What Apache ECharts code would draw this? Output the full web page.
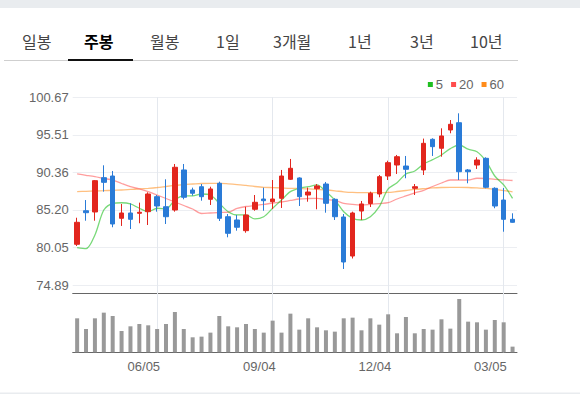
<!DOCTYPE html>
<html>
<head>
<meta charset="utf-8">
<script src="https://cdn.jsdelivr.net/npm/echarts@6/dist/echarts.min.js"></script>
<style>
html,body{margin:0;padding:0;background:#ffffff;}
#c{width:580px;height:394px;}
</style>
</head>
<body>
<div id="c"></div>
<script>
// ---- data ----
const dates = ['04/03','04/10','04/17','04/24','05/01','05/08','05/15','05/22','05/29','06/05',
  '06/12','06/19','06/26','07/03','07/10','07/17','07/24','07/31','08/07','08/14',
  '08/21','08/28','09/04','09/11','09/18','09/25','10/02','10/09','10/16','10/23',
  '10/30','11/06','11/13','11/20','11/27','12/04','12/11','12/18','12/25','01/01',
  '01/08','01/15','01/22','01/29','02/05','02/12','02/19','02/26','03/05','03/12'];

// [open, close, low, high]
const candles = [
  [80.48,83.50,80.25,84.13],[85.09,84.82,83.72,86.56],[84.92,89.22,83.72,89.31],[89.63,88.99,87.71,91.33],
  [89.86,83.27,82.82,90.55],[84.05,84.78,83.00,86.02],[84.78,83.91,82.58,86.11],[84.74,84.88,83.37,86.20],
  [84.96,87.39,83.13,87.62],[87.02,85.74,84.96,87.25],[85.64,84.27,83.27,89.41],[85.19,91.06,84.96,91.51],
  [90.69,86.94,86.66,91.51],[87.94,87.49,87.16,88.26],[88.39,87.02,86.47,88.76],[86.66,88.08,85.88,88.39],
  [88.86,84.05,83.68,89.08],[84.27,81.99,81.44,84.64],[83.82,82.82,82.35,84.50],[82.35,84.50,82.07,85.64],
  [85.29,86.25,85.09,87.25],[86.70,86.47,85.09,88.26],[86.33,86.70,85.33,89.31],[86.80,89.86,85.47,90.69],
  [89.41,90.92,89.31,92.20],[89.59,87.02,85.74,89.68],[87.25,87.66,86.33,88.28],[88.12,88.49,85.29,88.76],
  [88.76,86.11,84.82,89.04],[86.66,84.27,83.82,86.80],[84.23,78.05,77.09,84.64],[78.87,84.78,78.53,84.96],
  [85.05,86.02,83.82,86.43],[86.08,87.49,85.60,87.71],[87.39,89.77,86.94,90.00],[89.86,91.69,89.31,91.96],
  [91.37,92.51,90.14,92.75],[91.23,90.78,89.55,92.61],[88.17,88.39,87.25,88.76],[90.69,94.35,90.00,95.00],
  [94.90,93.89,92.61,95.04],[93.67,95.36,92.51,96.41],[96.18,96.96,95.73,97.55],[97.18,90.45,89.31,98.47],
  [90.69,90.45,88.86,90.82],[91.37,92.06,90.83,92.43],[92.29,88.31,88.17,92.43],[88.17,85.74,85.43,88.31],
  [86.56,83.91,82.21,88.21],[83.91,83.50,83.45,84.74]
];

const ma5 = [80.01,79.88,81.76,85.19,86.11,86.19,86.02,85.43,84.96,85.43,
  85.33,86.57,87.12,87.12,87.39,87.25,86.11,84.96,84.51,84.51,
  83.96,84.27,85.43,86.57,87.71,88.17,88.39,88.63,87.71,86.57,
  84.96,84.05,83.82,84.27,85.65,88.08,88.94,90.14,90.55,91.51,
  92.10,92.75,93.62,94.12,93.55,93.20,91.92,89.86,88.63,86.80];

const ma20 = [90.14,89.96,89.77,89.52,89.31,88.83,88.39,88.08,87.71,87.25,
  86.77,86.29,85.81,85.33,84.71,84.78,84.85,84.88,85.40,85.67,
  85.81,85.95,86.15,86.29,86.50,86.70,86.77,86.80,86.63,86.50,
  86.11,85.95,85.88,85.97,86.08,86.19,86.70,87.12,87.53,87.90,
  88.42,88.90,89.31,89.31,89.31,89.55,89.52,89.41,89.34,89.24];

const ma60 = [87.71,87.76,87.80,87.84,87.90,87.94,88.01,88.08,88.17,88.28,
  88.42,88.56,88.69,88.76,88.83,88.86,88.86,88.79,88.69,88.56,
  88.42,88.31,88.27,88.22,88.17,88.15,88.08,88.01,87.94,87.83,
  87.69,87.60,87.57,87.57,87.57,87.60,87.73,87.87,88.01,88.12,
  88.22,88.28,88.31,88.31,88.28,88.22,88.15,88.01,87.86,87.68];

const volume = [102,70,102,119,109,64,78,85,81,70,
  85,121,70,45,47,59,109,78,75,85,
  70,59,95,59,116,68,102,75,66,62,
  102,104,66,102,83,114,57,106,57,70,
  68,99,71,160,92,90,68,97,90,17];

const yTicks = [74.89, 80.05, 85.20, 90.36, 95.51, 100.67];
const xTickLabels = ['06/05','09/04','12/04','03/05'];
const tabs = ['일봉','주봉','월봉','1일','3개월','1년','3년','10년'];
const selectedTab = '주봉';
const legendNames = ['5','20','60'];

// ---- layout / style ----
const tabX = [22, 84, 150, 216, 273, 348, 410, 470];
const UP = '#e2261e', DOWN = '#2a7bd7';
const C5 = '#1fbf1f', C20 = '#ff4d4d', C60 = '#ff8c1a';
const FONT = "'Liberation Sans', Arial, sans-serif";
const tickIdx = xTickLabels.map(d => dates.indexOf(d));
const vline = {
  z: 1, silent: true, symbol: ['none','none'], animation: false,
  label: {show: false}, emphasis: {disabled: true},
  lineStyle: {color: '#e4e8ee', width: 1, type: 'solid'},
  data: xTickLabels.map(d => ({xAxis: d}))
};

const graphic = [
  {type:'rect', shape:{x:0,y:0,width:580,height:8}, style:{fill:'#e9ecef'}, silent:true},
  {type:'rect', shape:{x:0,y:392.5,width:580,height:2}, style:{fill:'#e9ecef'}, silent:true},
  {type:'rect', shape:{x:4,y:60,width:514,height:1}, style:{fill:'#cfcfcf'}, silent:true},
  {type:'rect', shape:{x:68,y:59,width:65,height:2}, style:{fill:'#111111'}, silent:true}
];
tabs.forEach((t, i) => {
  const sel = t === selectedTab;
  graphic.push({type:'text', x: tabX[i], y: 41, silent: true,
    style:{text: t, fontSize: 16, fontWeight: sel ? 'bold' : 'normal',
      fontFamily: "'Noto Sans CJK KR', sans-serif", fill: sel ? '#000000' : '#444444',
      verticalAlign: 'middle', align: 'left'}});
});

const chart = echarts.init(document.getElementById('c'), null, {renderer: 'svg'});
const yMin = yTicks[0], yMax = yTicks[yTicks.length - 1];
chart.setOption({
  animation: false,
  backgroundColor: '#ffffff',
  graphic: graphic,
  legend: {
    right: 71, top: 73, icon: 'rect', itemWidth: 5, itemHeight: 5, itemGap: 8,
    textStyle: {color: '#666666', fontSize: 13, fontFamily: FONT, padding: [0, 0, 0, -2]},
    data: [
      {name: legendNames[0], itemStyle: {color: C5}},
      {name: legendNames[1], itemStyle: {color: C20}},
      {name: legendNames[2], itemStyle: {color: C60}}
    ],
    selectedMode: false
  },
  grid: [
    {left: 72.7, right: 63, top: 97.3, height: 187.7, outerBoundsMode: 'none'},
    {left: 72.7, right: 63, top: 285, height: 67.3, outerBoundsMode: 'none'}
  ],
  xAxis: [
    {gridIndex: 0, type: 'category', data: dates, boundaryGap: true, offset: 8.5,
      axisLine: {show: true, onZero: false, lineStyle: {color: '#666666', width: 1}},
      axisTick: {show: false}, axisLabel: {show: false}, splitLine: {show: false}},
    {gridIndex: 1, type: 'category', data: dates, boundaryGap: true,
      axisLine: {show: true, onZero: false, lineStyle: {color: '#666666', width: 1}},
      axisTick: {show: false}, splitLine: {show: false},
      axisLabel: {show: true, interval: (i) => tickIdx.indexOf(i) >= 0, align: 'right',
        color: '#666666', fontSize: 13, fontFamily: FONT, margin: 8, padding: [0, -3, 0, 0]}}
  ],
  yAxis: [
    {gridIndex: 0, type: 'value', min: yMin, max: yMax, interval: (yMax - yMin) / (yTicks.length - 1),
      axisLine: {show: false}, axisTick: {show: false},
      axisLabel: {color: '#666666', fontSize: 13, fontFamily: FONT, margin: 4,
        formatter: (v) => v.toFixed(2)},
      splitLine: {show: true, lineStyle: {color: '#eceef2', width: 1}}},
    {gridIndex: 1, type: 'value', min: 0, max: 202, show: false,
      splitLine: {show: false}}
  ],
  series: [
    {name: legendNames[2], type: 'line', data: ma60, xAxisIndex: 0, yAxisIndex: 0, z: 2,
      showSymbol: false, smooth: 0.3, silent: true, itemStyle: {color: C60},
      lineStyle: {color: C60, width: 1.3, opacity: 0.55}},
    {name: legendNames[1], type: 'line', data: ma20, xAxisIndex: 0, yAxisIndex: 0, z: 2,
      showSymbol: false, smooth: 0.3, silent: true, itemStyle: {color: C20},
      lineStyle: {color: C20, width: 1.3, opacity: 0.55}},
    {name: legendNames[0], type: 'line', data: ma5, xAxisIndex: 0, yAxisIndex: 0, z: 2,
      showSymbol: false, smooth: 0.3, silent: true, itemStyle: {color: C5},
      lineStyle: {color: C5, width: 1.3, opacity: 0.6}},
    {type: 'candlestick', data: candles, xAxisIndex: 0, yAxisIndex: 0, z: 3, barWidth: 5,
      itemStyle: {color: UP, color0: DOWN, borderColor: UP, borderColor0: DOWN, borderWidth: 1},
      markLine: vline},
    {type: 'bar', data: volume, xAxisIndex: 1, yAxisIndex: 1, z: 3, barWidth: 4,
      itemStyle: {color: '#999999'}, markLine: vline}
  ]
});
</script>
</body>
</html>
